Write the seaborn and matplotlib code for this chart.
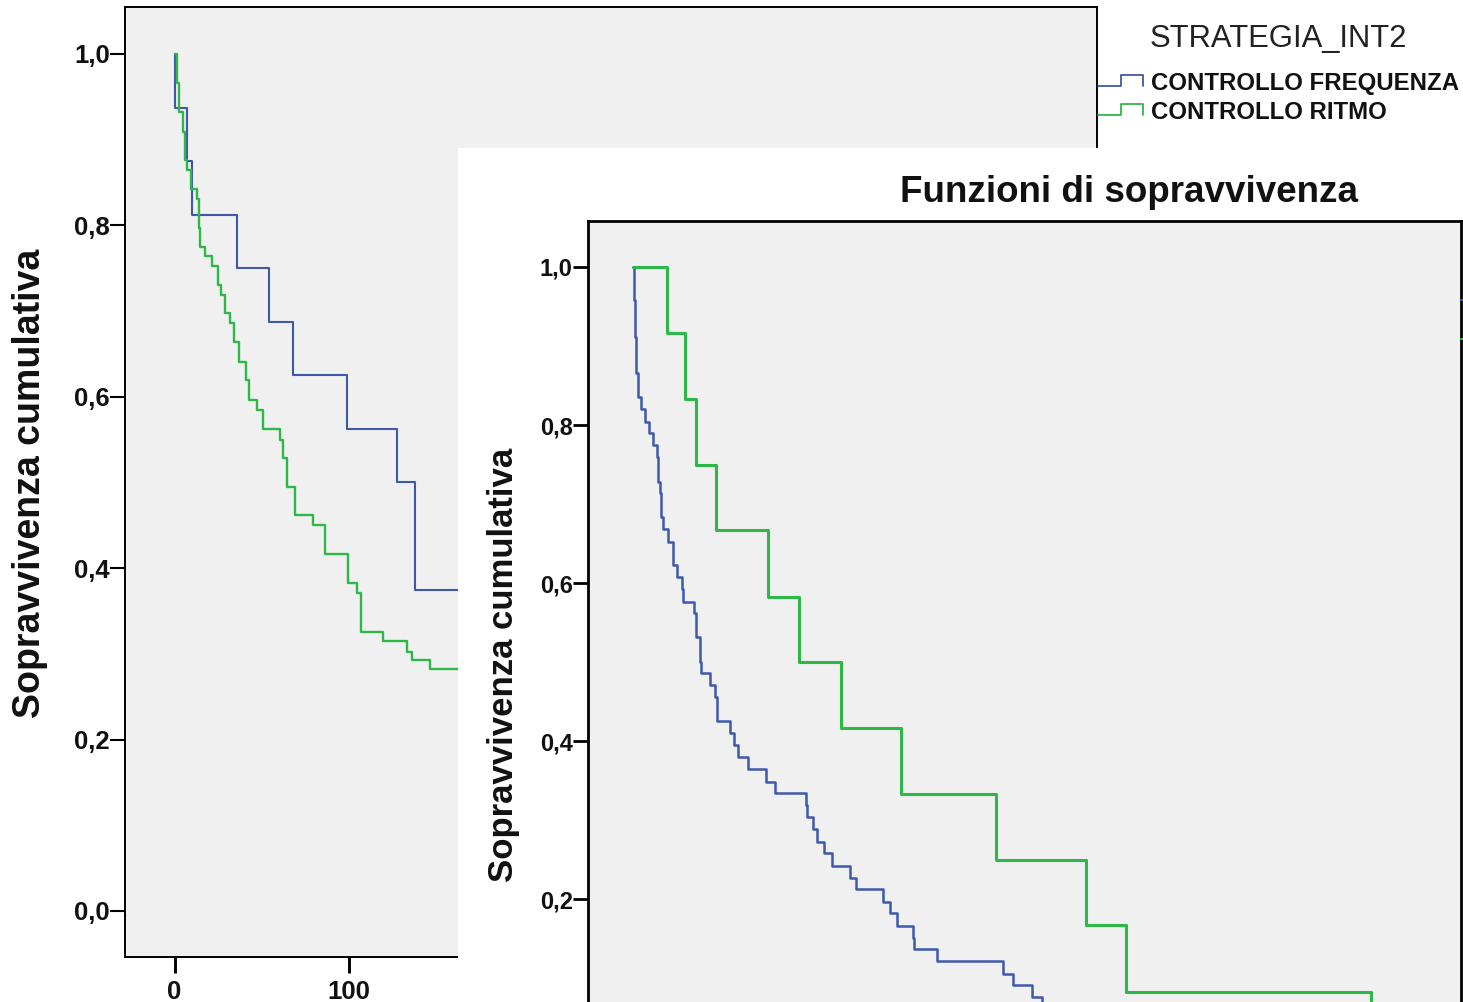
import matplotlib
matplotlib.use("Agg")
import matplotlib.pyplot as plt
import seaborn as sns
import pandas as pd
from matplotlib.patches import Rectangle
from matplotlib.lines import Line2D

# ---------------- data ----------------
groups = ["CONTROLLO FREQUENZA", "CONTROLLO RITMO"]
colors = ["#3E58AC", "#2EB848"]
legend_title = "STRATEGIA_INT2"
ylabel_text = "Sopravvivenza cumulativa"
title_text = "Funzioni di sopravvivenza"
yticks = [0.0, 0.2, 0.4, 0.6, 0.8, 1.0]
ytick_labels = ["0,0", "0,2", "0,4", "0,6", "0,8", "1,0"]
xticks = [0, 100, 200, 300, 400, 500]
xtick_labels = ["0", "100", "200", "300", "400", "500"]

# back chart (partly hidden)
back_freq_t = [0, 0.5, 7.2, 10.0, 35.8, 54.2, 67.9, 98.9, 127.5, 137.8, 200]
back_freq_s = [1.0, 0.9375, 0.875, 0.8125, 0.75, 0.6875, 0.625, 0.5625, 0.5, 0.375, 0.375]
back_ritmo_t = [0, 1.5, 2.6, 4.9, 6.0, 7.2, 9.5, 12.9, 14.0, 14.6, 17.5, 21.5, 24.9, 26.6,
                28.9, 31.8, 34.1, 37.0, 41.0, 42.7, 47.3, 50.7, 60.5, 62.2, 64.5, 69.1,
                79.4, 86.2, 99.4, 104.6, 106.9, 119.5, 133.2, 136.1, 146.4, 200]
back_ritmo_s = [1.0, 0.966, 0.932, 0.909, 0.876, 0.865, 0.842, 0.831, 0.797, 0.775, 0.764,
                0.753, 0.730, 0.719, 0.698, 0.686, 0.664, 0.641, 0.620, 0.596, 0.585, 0.562,
                0.550, 0.529, 0.495, 0.462, 0.450, 0.417, 0.383, 0.371, 0.326, 0.315, 0.302,
                0.293, 0.282, 0.282]

# front chart
front_freq_t = [0, 0.96, 1.6, 2.2, 3.5, 5.4, 8.0, 10.5, 13.1, 15.6, 16.3, 17.6, 17.9, 19.5,
                22.7, 25.8, 28.4, 31.6, 32.2, 39.2, 40.5, 43.1, 43.7, 49.5, 52.6, 53.9, 62.2,
                64.8, 67.3, 73.7, 85.2, 90.9, 111.0, 111.6, 115.2, 117.7, 122.2, 127.3, 138.8,
                142.6, 159.9, 164.4, 168.9, 179.1, 179.8, 194.3, 236.4, 242.8, 254.9, 261.3]
front_freq_s = [1.0, 0.958, 0.911, 0.866, 0.835, 0.820, 0.804, 0.790, 0.775, 0.759, 0.728,
                0.714, 0.684, 0.668, 0.652, 0.623, 0.608, 0.592, 0.576, 0.562, 0.532, 0.5,
                0.486, 0.471, 0.456, 0.425, 0.410, 0.395, 0.380, 0.365, 0.348, 0.334, 0.319,
                0.304, 0.289, 0.273, 0.258, 0.242, 0.227, 0.213, 0.197, 0.182, 0.166, 0.151,
                0.137, 0.122, 0.106, 0.091, 0.076, 0.061]
front_ritmo_t = [0, 22.0, 33.5, 40.5, 53.3, 86.5, 106.3, 133.1, 171.4, 232.0, 289.4, 314.9, 471.3]
front_ritmo_s = [1.0, 0.917, 0.833, 0.75, 0.667, 0.583, 0.5, 0.417, 0.333, 0.25, 0.167, 0.083, 0.0]

# ---------------- style ----------------
W, H = 1463, 1002
sns.set_theme(style="white")
plt.rcParams["font.family"] = ["Liberation Sans", "DejaVu Sans"]
BG = "#F0F0F0"

fig = plt.figure(figsize=(W / 100, H / 100), dpi=100)
fig.patch.set_facecolor("white")


def fx(x):
    return x / W


def fy(y):
    return 1 - y / H


def axes_px(l, t, r, b, z):
    return fig.add_axes([fx(l), fy(b), fx(r) - fx(l), fy(t) - fy(b)], zorder=z)


def style_axes(ax, spine_lw, ylim, xlim, tick_fs, tick_len, tick_w, show_xlabels=True,
               ytick_idx=None):
    ax.set_facecolor(BG)
    for sp in ax.spines.values():
        sp.set_visible(True)
        sp.set_color("black")
        sp.set_linewidth(spine_lw)
    ax.set_xlim(*xlim)
    ax.set_ylim(*ylim)
    idx = ytick_idx if ytick_idx is not None else list(range(len(yticks)))
    ax.set_yticks([yticks[i] for i in idx])
    ax.set_yticklabels([ytick_labels[i] for i in idx], fontweight="bold",
                       fontsize=tick_fs, color="#111111")
    if show_xlabels:
        ax.set_xticks(xticks)
        ax.set_xticklabels(xtick_labels, fontweight="bold", fontsize=tick_fs, color="#111111")
    else:
        ax.set_xticks([])
    ax.tick_params(axis="y", direction="out", length=tick_len, width=tick_w, pad=0.5,
                   left=True, color="black")
    ax.tick_params(axis="x", direction="out", length=tick_len + 1, width=tick_w * 1.4, pad=5,
                   bottom=True, color="black")
    ax.set_xlabel("")
    ax.set_ylabel("")
    ax.grid(False)


def draw_curves(ax, ft, fs, rt, rs, lw_f, lw_r):
    df = pd.concat([
        pd.DataFrame({"t": ft, "s": fs, "g": groups[0]}),
        pd.DataFrame({"t": rt, "s": rs, "g": groups[1]}),
    ], ignore_index=True)
    for g, c, lw in zip(groups, colors, [lw_f, lw_r]):
        sns.lineplot(data=df[df["g"] == g], x="t", y="s", color=c, estimator=None,
                     sort=False, drawstyle="steps-post", linewidth=lw, legend=False, ax=ax)


XLIM = (-28.4, 528.6)

# back chart
ax1 = axes_px(125, 7, 1097, 957, 0)
draw_curves(ax1, back_freq_t, back_freq_s, back_ritmo_t, back_ritmo_s, 1.5, 1.7)
style_axes(ax1, 1.4, (-0.0537, 1.0548), XLIM, 18.5, 10.5, 1.5)
fig.text(fx(30), fy(483), ylabel_text, rotation=90, ha="center", va="center",
         fontsize=27, fontweight="bold", color="#111111")

# legend of back chart
fig.text(fx(1150), fy(47), legend_title, ha="left", va="baseline", fontsize=22.3,
         color="#222222")
fig.text(fx(1151), fy(90), groups[0], ha="left", va="baseline", fontsize=17.3,
         fontweight="bold", color="#111111")
fig.text(fx(1151), fy(119), groups[1], ha="left", va="baseline", fontsize=17.3,
         fontweight="bold", color="#111111")
for c, base in zip(colors, [86, 115]):
    xs = [1098, 1121, 1121, 1143, 1143]
    ys = [base, base, base - 11, base - 11, base]
    fig.add_artist(Line2D([fx(v) for v in xs], [fy(v) for v in ys], color=c,
                          lw=1.3, transform=fig.transFigure, zorder=0.5))

# white panel of the front chart
fig.add_artist(Rectangle((fx(458), fy(1002) - 0.01), fx(1463) - fx(458) + 0.01,
                         fy(148) - fy(1002) + 0.01, transform=fig.transFigure,
                         facecolor="white", edgecolor="none", zorder=1))

# front chart (its lower part lies below the picture edge)
ax2 = axes_px(588, 221, 1461, 1100, 2)
draw_curves(ax2, front_freq_t, front_freq_s, front_ritmo_t, front_ritmo_s, 1.8, 2.2)
style_axes(ax2, 2.0, (-0.054, 1.0582), XLIM, 17, 10.5, 2.0, show_xlabels=False,
           ytick_idx=[1, 2, 3, 4, 5])
fig.text(fx(503), fy(665), ylabel_text, rotation=90, ha="center", va="center",
         fontsize=25, fontweight="bold", color="#111111", zorder=3)
fig.text(fx(1129.5), fy(193), title_text, ha="center", va="center",
         fontsize=26.5, fontweight="bold", color="#111111", zorder=3)
for c, yy in zip(colors, [300, 339]):
    fig.add_artist(Line2D([fx(1461), fx(1470)], [fy(yy), fy(yy)], color=c, lw=1.5,
                          transform=fig.transFigure, zorder=3))

fig.savefig("out.png", dpi=100, facecolor="white")
